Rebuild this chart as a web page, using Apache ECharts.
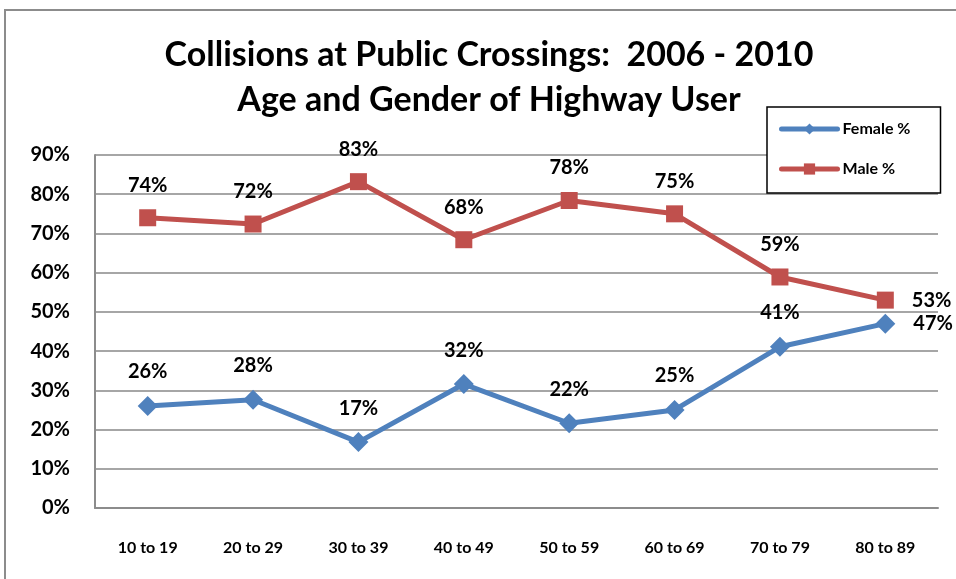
<!DOCTYPE html>
<html>
<head>
<meta charset="utf-8">
<script src="https://cdn.jsdelivr.net/npm/echarts@6/dist/echarts.min.js"></script>
<style>
  html, body { margin: 0; padding: 0; background: #fff; }
  #chart { width: 956px; height: 579px; }
</style>
</head>
<body>
<div id="chart"></div>
<script>
// age groups on the x axis
const ageGroups = ['10 to 19', '20 to 29', '30 to 39', '40 to 49', '50 to 59', '60 to 69', '70 to 79', '80 to 89']
// share of collisions by gender, in percent
const femalePct = [26.0, 27.6, 16.8, 31.6, 21.6, 25.0, 41.1, 47.0]
const malePct = [74.0, 72.4, 83.2, 68.4, 78.4, 75.0, 58.9, 53.0]
const yTicks = { min: 0, max: 90, step: 10 }

const FONT = "Lato, 'Liberation Sans', sans-serif"

const chart = echarts.init(document.getElementById('chart'))

// last point label sits to the right, the others above
const makeData = (values) => values.map((v, i) => {
  if (i === values.length - 1) {
    return { value: v, label: { position: 'right', distance: 18 } }
  }
  return v
})

const labelStyle = {
  show: true,
  position: 'top',
  distance: 14,
  fontFamily: FONT,
  fontWeight: 'bold',
  fontSize: 20,
  color: '#000',
  formatter: (p) => Math.round(p.value) + '%'
}

const option = {
  animation: false,
  backgroundColor: '#fff',
  title: {
    text: 'Collisions at Public Crossings:  2006 - 2010\nAge and Gender of Highway User',
    left: 484,
    textAlign: 'center',
    top: 28,
    textStyle: {
      fontFamily: FONT,
      fontWeight: 'bold',
      fontSize: 34,
      lineHeight: 45,
      color: '#000'
    }
  },
  graphic: [
    {
      type: 'rect',
      shape: { x: 5, y: 10, width: 1000, height: 1000 },
      style: { fill: 'none', stroke: '#8c8c8c', lineWidth: 2 },
      silent: true
    }
  ],
  legend: {
    orient: 'vertical',
    left: 767,
    top: 107,
    width: 140,
    padding: [13, 18, 15, 12],
    itemGap: 22,
    itemWidth: 56,
    itemHeight: 14,
    backgroundColor: '#fff',
    borderColor: '#000',
    borderWidth: 1.5,
    lineStyle: { width: 5, cap: 'round' },
    textStyle: {
      fontFamily: FONT,
      fontWeight: 'bold',
      fontSize: 16,
      color: '#000',
      width: 80,
      lineHeight: 18
    },
    data: ['Female %', 'Male %']
  },
  grid: {
    left: 95,
    right: 18,
    top: 155,
    bottom: 71
  },
  xAxis: {
    type: 'category',
    data: ageGroups,
    boundaryGap: true,
    axisLine: { lineStyle: { color: '#8c8c8c', width: 2 } },
    axisTick: { show: false },
    axisLabel: {
      margin: 32,
      fontFamily: FONT,
      fontWeight: 'bold',
      fontSize: 16,
      color: '#000'
    }
  },
  yAxis: {
    type: 'value',
    min: yTicks.min,
    max: yTicks.max,
    interval: yTicks.step,
    axisLine: { show: true, lineStyle: { color: '#8c8c8c', width: 2 } },
    axisTick: { show: false },
    splitLine: { lineStyle: { color: '#a6a6a6', width: 2 } },
    axisLabel: {
      margin: 25,
      formatter: '{value}%',
      fontFamily: FONT,
      fontWeight: 'bold',
      fontSize: 20,
      color: '#000'
    }
  },
  series: [
    {
      name: 'Female %',
      type: 'line',
      data: makeData(femalePct),
      symbol: 'diamond',
      symbolSize: 20,
      lineStyle: { color: '#4f81bd', width: 5 },
      itemStyle: { color: '#4f81bd' },
      label: labelStyle,
      z: 3
    },
    {
      name: 'Male %',
      type: 'line',
      data: makeData(malePct),
      symbol: 'rect',
      symbolSize: 17,
      lineStyle: { color: '#c0504d', width: 5 },
      itemStyle: { color: '#c0504d' },
      label: labelStyle,
      z: 3
    }
  ]
}

chart.setOption(option)
</script>
</body>
</html>
